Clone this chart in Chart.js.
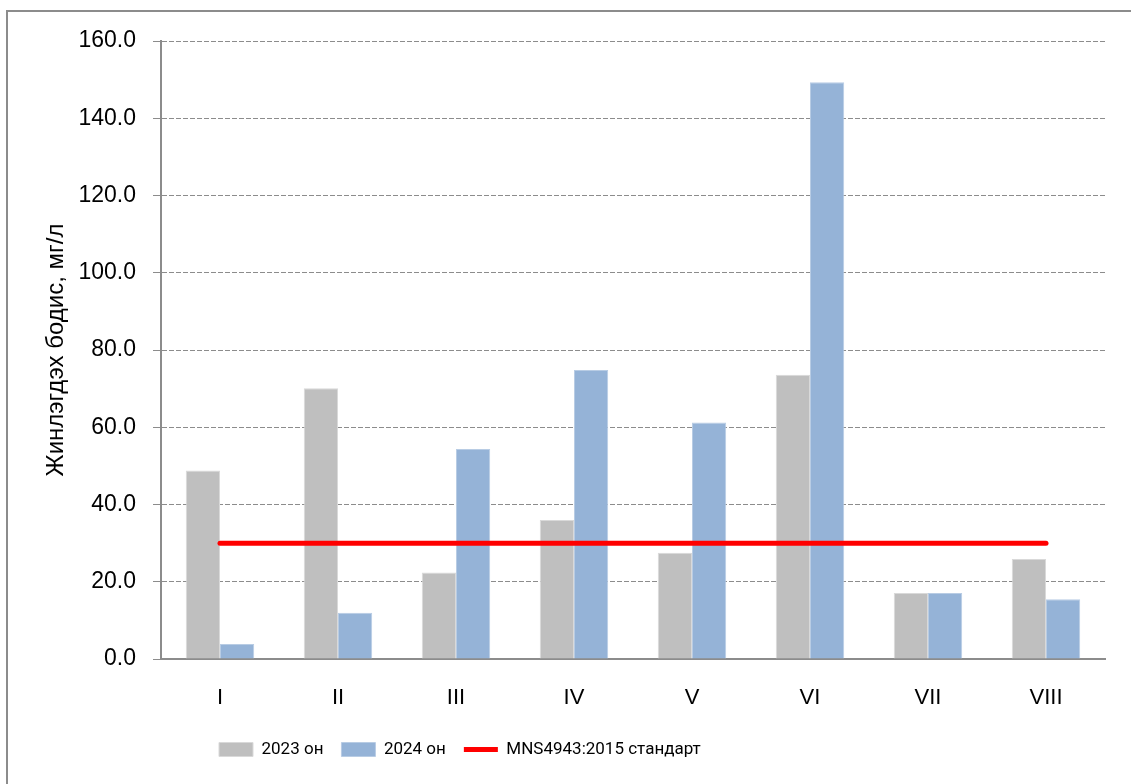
<!DOCTYPE html>
<html>
<head>
<meta charset="utf-8">
<script src="https://cdn.jsdelivr.net/npm/chart.js@4.4.1/dist/chart.umd.min.js"></script>
<style>
  html, body { margin: 0; padding: 0; background: #fff; overflow: hidden; }
  #wrap { position: relative; width: 1131px; height: 784px; }
  #frame { position: absolute; left: 6px; top: 10px; width: 1200px; height: 900px;
           border-left: 2px solid #8c8c8c; border-top: 2px solid #8c8c8c; }
  canvas { position: absolute; left: 0; top: 0; }
</style>
</head>
<body>
<div id="wrap">
  <div id="frame"></div>
  <canvas id="grafik" width="1131" height="784"></canvas>
</div>
<script>
// Ангилал (цэгүүд)
const angilal = ['I', 'II', 'III', 'IV', 'V', 'VI', 'VII', 'VIII']

// Жинлэгдэх бодис, мг/л
const on2023 = [48.8, 70.1, 22.4, 36.0, 27.5, 73.6, 17.1, 25.9]
const on2024 = [3.9, 12.0, 54.4, 74.8, 61.2, 149.3, 17.1, 15.5]
const standart = [30, 30, 30, 30, 30, 30, 30, 30]

// Тэнхлэгийн хуваарь
const yMin = 0
const yMax = 160
const yAlham = 20

const ungSaaral = '#bfbfbf'
const ungTsenher = '#95b3d7'
const ungUlaan = '#ff0000'
const ungTor = '#8c8c8c'

// legend-ийг зүүн тийш шилжүүлэх
const legendShift = {
    id: 'legendShift',
    afterLayout(chart) {
        const lg = chart.legend
        lg.left += 201
        lg.right += 201
    }
}

const ctx = document.getElementById('grafik')

new Chart(ctx, {
    type: 'bar',
    data: {
        labels: angilal,
        datasets: [{
            label: '2023 он',
            data: on2023,
            backgroundColor: ungSaaral,
            borderColor: '#d9d9d9',
            borderWidth: 1,
            pointStyle: 'rect',
            order: 1
        }, {
            label: '2024 он',
            data: on2024,
            backgroundColor: ungTsenher,
            borderColor: '#b8cce4',
            borderWidth: 1,
            pointStyle: 'rect',
            order: 1
        }, {
            type: 'line',
            label: 'MNS4943:2015 стандарт',
            data: standart,
            borderColor: ungUlaan,
            backgroundColor: ungUlaan,
            borderWidth: 5,
            borderCapStyle: 'round',
            pointRadius: 0,
            pointStyle: 'line',
            fill: false,
            order: 0
        }]
    },
    options: {
        responsive: false,
        animation: false,
        layout: {
            padding: { top: 41, right: 26, left: 0, bottom: 16 }
        },
        datasets: {
            bar: {
                categoryPercentage: 0.58,
                barPercentage: 1.0
            }
        },
        scales: {
            x: {
                afterFit(scale) { scale.height = 64 },
                grid: { display: false, drawTicks: false, tickLength: 0 },
                border: { display: true, color: ungTor, width: 2 },
                ticks: {
                    color: '#000',
                    padding: 26,
                    font: { family: 'Liberation Sans', size: 22 }
                }
            },
            y: {
                min: yMin,
                max: yMax,
                afterFit(scale) { scale.width = 161 },
                grid: {
                    color: ungTor,
                    lineWidth: 1,
                    tickLength: 8,
                    tickColor: ungTor,
                    tickBorderDash: []
                },
                border: { display: true, color: ungTor, width: 2, dash: [5, 2] },
                ticks: {
                    stepSize: yAlham,
                    color: '#000',
                    padding: 17,
                    font: { family: 'Liberation Sans', size: 23 },
                    callback: v => v.toFixed(1)
                },
                title: {
                    display: true,
                    text: 'Жинлэгдэх бодис, мг/л',
                    color: '#000',
                    padding: { top: 41.6, bottom: 0 },
                    font: { family: 'Liberation Sans', size: 24 }
                }
            }
        },
        plugins: {
            tooltip: { enabled: false },
            legend: {
                position: 'bottom',
                align: 'start',
                labels: {
                    usePointStyle: true,
                    pointStyleWidth: 34,
                    boxWidth: 34,
                    boxHeight: 14,
                    padding: 18,
                    color: '#000',
                    font: { family: 'Roboto', size: 17 },
                    sort: (a, b) => a.datasetIndex - b.datasetIndex
                }
            }
        }
    },
    plugins: [legendShift]
});
</script>
</body>
</html>
